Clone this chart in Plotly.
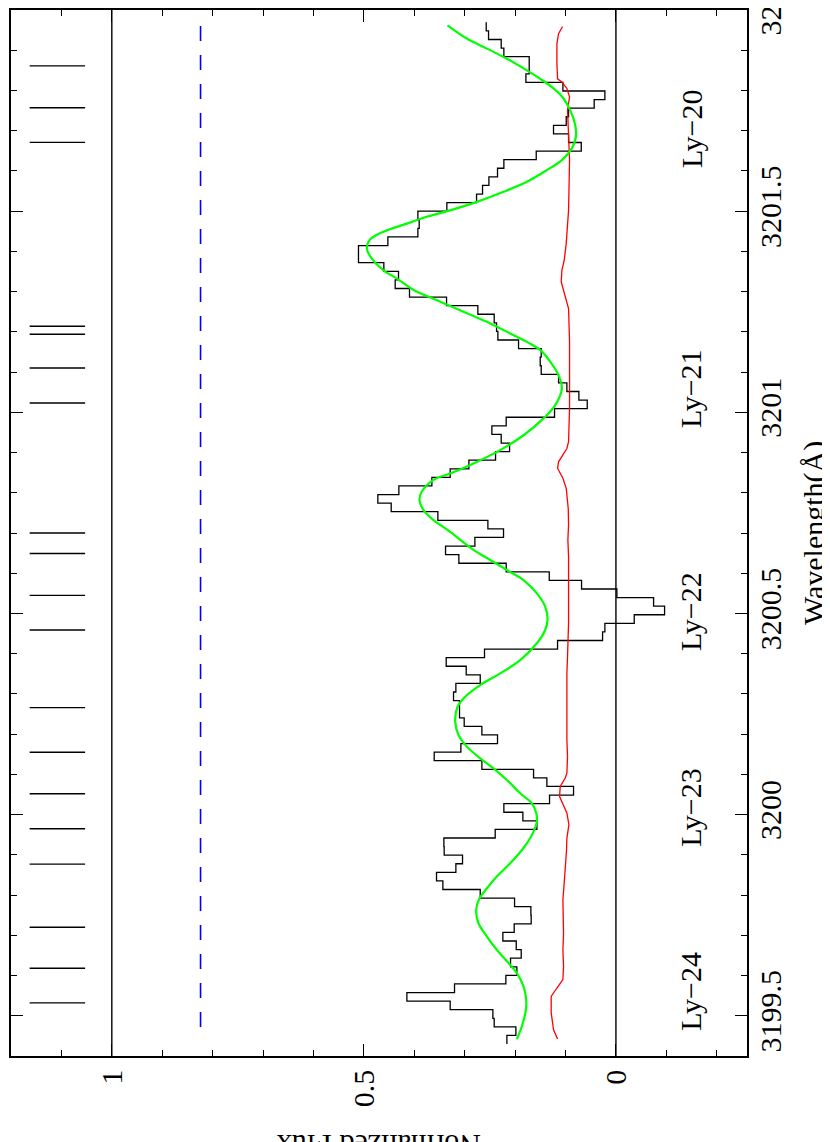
import numpy as np
import plotly.graph_objects as go

# ---------------- data ----------------
# spectrum pixel grid (linear dispersion): first bin edge and pixel width in Angstrom
wave_start = 3199.4297
wave_step = 0.021342

# observed normalized flux per pixel (low -> high wavelength)
flux_hist = [
    0.2163, 0.1985, 0.2415, 0.2441, 0.3288, 0.4147, 0.3202, 0.2183, 0.1965, 0.2091,
    0.1879, 0.1978, 0.2243, 0.2018, 0.1681, 0.1687, 0.2011, 0.2692, 0.3433, 0.3559,
    0.3175, 0.3043, 0.3407, 0.3413, 0.2395, 0.1568, 0.1846, 0.2223, 0.1317, 0.0841,
    0.1370, 0.1634, 0.2659, 0.3605, 0.3076, 0.2349, 0.2659, 0.3010, 0.3103, 0.3103,
    0.3222, 0.3175, 0.2692, 0.2970, 0.3367, 0.2607, 0.1158, 0.0265, 0.0219, -0.0363,
    -0.0965, -0.0747, -0.0019, 0.0682, 0.1323, 0.2177, 0.3116, 0.3380, 0.2798, 0.2230,
    0.2540, 0.3532, 0.4458, 0.4723, 0.4306, 0.3651, 0.3288, 0.2917, 0.2388, 0.2110,
    0.2276, 0.2461, 0.2177, 0.1218, 0.0569, 0.0735, 0.0973, 0.1138, 0.1482, 0.1502,
    0.1482, 0.1932, 0.2342, 0.2368, 0.2415, 0.2739, 0.3360, 0.4095, 0.4379, 0.4313,
    0.4604, 0.5107, 0.5107, 0.4524, 0.3929, 0.3903, 0.3929, 0.3354, 0.2765, 0.2646,
    0.2520, 0.2349, 0.2223, 0.1581, 0.0688, 0.0940, 0.1238, 0.0986, 0.0940, 0.0431,
    0.0219, 0.1052, 0.1786, 0.1720, 0.1720, 0.2223, 0.2276, 0.2527, 0.2573,
]

# model fit (green)
fit_wave = [
    3199.442, 3199.474, 3199.515, 3199.540, 3199.573, 3199.606, 3199.631, 3199.664,
    3199.697, 3199.730, 3199.763, 3199.792, 3199.817, 3199.846, 3199.879, 3199.917,
    3199.954, 3199.983, 3200.004, 3200.028, 3200.053, 3200.086, 3200.115, 3200.140,
    3200.169, 3200.198, 3200.231, 3200.268, 3200.293, 3200.322, 3200.351, 3200.384,
    3200.426, 3200.459, 3200.484, 3200.517, 3200.550, 3200.583, 3200.608, 3200.633,
    3200.658, 3200.703, 3200.732, 3200.757, 3200.782, 3200.803, 3200.832, 3200.848,
    3200.873, 3200.906, 3200.943, 3200.985, 3201.018, 3201.059, 3201.092, 3201.126,
    3201.155, 3201.175, 3201.196, 3201.221, 3201.246, 3201.275, 3201.304, 3201.330,
    3201.353, 3201.382, 3201.407, 3201.428, 3201.449, 3201.469, 3201.486, 3201.502,
    3201.523, 3201.548, 3201.573, 3201.602, 3201.627, 3201.656, 3201.685, 3201.714,
    3201.751, 3201.780, 3201.805, 3201.829, 3201.850, 3201.879, 3201.904, 3201.929,
    3201.962,
]
fit_flux = [
    0.1965, 0.1866, 0.1786, 0.1780, 0.1833, 0.1965, 0.2130, 0.2362,
    0.2560, 0.2726, 0.2772, 0.2706, 0.2560, 0.2362, 0.2097, 0.1833,
    0.1647, 0.1568, 0.1581, 0.1667, 0.1899, 0.2163, 0.2428, 0.2692,
    0.2957, 0.3122, 0.3188, 0.3142, 0.2990, 0.2692, 0.2296, 0.1899,
    0.1568, 0.1403, 0.1357, 0.1403, 0.1568, 0.1833, 0.2163, 0.2494,
    0.2825, 0.3288, 0.3618, 0.3817, 0.3896, 0.3850, 0.3618, 0.3288,
    0.2825, 0.2296, 0.1833, 0.1436, 0.1204, 0.1072, 0.1138, 0.1304,
    0.1502, 0.1767, 0.2097, 0.2494, 0.2957, 0.3486, 0.4015, 0.4313,
    0.4610, 0.4842, 0.4941, 0.4888, 0.4610, 0.4147, 0.3751, 0.3288,
    0.2759, 0.2230, 0.1767, 0.1370, 0.1072, 0.0874, 0.0794, 0.0808,
    0.0907, 0.1039, 0.1238, 0.1502, 0.1767, 0.2163, 0.2560, 0.2957,
    0.3341,
]

# flux error (red)
err_wave = [
    3199.442, 3199.465, 3199.507, 3199.548, 3199.569, 3199.590, 3199.623, 3199.664,
    3199.705, 3199.747, 3199.788, 3199.830, 3199.871, 3199.912, 3199.941, 3199.975,
    3200.004, 3200.028, 3200.045, 3200.070, 3200.091, 3200.103, 3200.144, 3200.186,
    3200.227, 3200.269, 3200.310, 3200.351, 3200.393, 3200.434, 3200.476, 3200.517,
    3200.558, 3200.600, 3200.641, 3200.683, 3200.720, 3200.761, 3200.811, 3200.836,
    3200.861, 3200.877, 3200.894, 3200.910, 3200.927, 3200.968, 3201.010, 3201.092,
    3201.175, 3201.258, 3201.300, 3201.324, 3201.353, 3201.378, 3201.420, 3201.461,
    3201.502, 3201.544, 3201.585, 3201.627, 3201.668, 3201.709, 3201.751, 3201.784,
    3201.805, 3201.821, 3201.829, 3201.867, 3201.916, 3201.941, 3201.959,
]
err_flux = [
    0.1158, 0.1237, 0.1284, 0.1284, 0.1171, 0.1052, 0.1039, 0.1052,
    0.1039, 0.1052, 0.1052, 0.1026, 0.0999, 0.0980, 0.0973, 0.0933,
    0.0973, 0.1052, 0.1118, 0.1105, 0.1006, 0.0973, 0.0960, 0.0973,
    0.0973, 0.0973, 0.0986, 0.0973, 0.0960, 0.0946, 0.0940, 0.0940,
    0.0946, 0.0940, 0.0940, 0.0953, 0.0940, 0.0946, 0.0986, 0.1052,
    0.1158, 0.1138, 0.1052, 0.0973, 0.0940, 0.0927, 0.0920, 0.0920,
    0.0920, 0.0940, 0.1026, 0.1085, 0.1072, 0.1026, 0.0986, 0.0960,
    0.0940, 0.0933, 0.0920, 0.0920, 0.0933, 0.0946, 0.0960, 0.0920,
    0.0973, 0.1072, 0.1158, 0.1171, 0.1171, 0.1138, 0.1059,
]

# continuum-level guide (blue dashed)
cont_level = 0.824
cont_wave = [3201.960, 3199.440]

# reference flux levels
ref_levels = [0, 1]

# absorption component markers (tick lines at top of panel)
marker_wave = [
    3199.532, 3199.618, 3199.720, 3199.877, 3199.965, 3200.052, 3200.155,
    3200.266, 3200.459, 3200.545, 3200.649, 3200.700, 3201.023, 3201.110,
    3201.194, 3201.214, 3201.671, 3201.757, 3201.861,
]
marker_flux = [1.053, 1.163]

# transition labels
ly_labels = ["Ly\u221224", "Ly\u221223", "Ly\u221222", "Ly\u221221", "Ly\u221220"]
ly_wave = [3199.560, 3200.017, 3200.504, 3201.058, 3201.704]
ly_flux = -0.149

# axes
flux_range = [1.2, -0.26]
wave_range = [3199.4, 3202.0]
flux_ticks = [0, 0.5, 1]
flux_ticktext = ["0", "0.5", "1"]
wave_ticks = [3199.5, 3200.0, 3200.5, 3201.0, 3201.5, 3202.0]
wave_ticktext = ["3199.5", "3200", "3200.5", "3201", "3201.5", "3202"]

# ---------------- figure ----------------
FONT = "Liberation Serif"
FS = 30

fig = go.Figure()

edges = wave_start + wave_step * np.arange(len(flux_hist) + 1)
fig.add_trace(go.Scatter(
    x=list(flux_hist) + [flux_hist[-1]], y=edges, mode="lines",
    line=dict(color="black", width=1.3, shape="vh"), hoverinfo="skip"))

fig.add_trace(go.Scatter(
    x=err_flux, y=err_wave, mode="lines",
    line=dict(color="#ff0000", width=1.3), hoverinfo="skip"))

fig.add_trace(go.Scatter(
    x=fit_flux, y=fit_wave, mode="lines",
    line=dict(color="#00ff00", width=2.2, shape="spline", smoothing=1.0), hoverinfo="skip"))

fig.add_trace(go.Scatter(
    x=[cont_level, cont_level], y=cont_wave, mode="lines",
    line=dict(color="#0000ff", width=1.6, dash="15px,14px"), hoverinfo="skip"))

mx, my = [], []
for w in marker_wave:
    mx += [marker_flux[0], marker_flux[1], None]
    my += [w, w, None]
fig.add_trace(go.Scatter(x=mx, y=my, mode="lines",
                         line=dict(color="black", width=1.4), hoverinfo="skip"))

for lv in ref_levels:
    fig.add_vline(x=lv, line=dict(color="black", width=1.4), layer="below")

for lab, w in zip(ly_labels, ly_wave):
    fig.add_annotation(x=ly_flux, y=w, xref="x", yref="y", text=lab, textangle=-90,
                       showarrow=False, xanchor="center", yanchor="middle",
                       font=dict(family=FONT, size=FS, color="black"))

# axis titles: wavelength on the right (reads upward), flux title upside down at
# the bottom, cut by the page edge as in the reference
fig.add_annotation(x=1.091, y=0.5, xref="paper", yref="paper", text="Wavelength(\u00c5)",
                   textangle=-90, showarrow=False, xanchor="center", yanchor="middle",
                   font=dict(family=FONT, size=FS, color="black"))
fig.add_annotation(x=0.5, y=-0.085, xref="paper", yref="paper", text="Normalized Flux",
                   textangle=180, showarrow=False, xanchor="center", yanchor="middle",
                   font=dict(family=FONT, size=FS, color="black"))

axis_common = dict(
    showline=True, linecolor="black", linewidth=1.5, mirror="ticks",
    ticks="inside", ticklen=12, tickwidth=1.3, tickcolor="black",
    showgrid=False, zeroline=False, tickangle=-90, ticklabeloverflow="allow",
    automargin=False,
    tickfont=dict(family=FONT, size=FS, color="black"),
)

fig.update_xaxes(range=flux_range, tickmode="array", tickvals=flux_ticks,
                 ticktext=flux_ticktext,
                 minor=dict(ticks="inside", ticklen=6, tickwidth=1.3, tickcolor="black",
                            tickmode="linear", tick0=0, dtick=0.1, showgrid=False),
                 **axis_common)
fig.update_yaxes(range=wave_range, side="right", tickmode="array", tickvals=wave_ticks,
                 ticktext=wave_ticktext, ticklabelstandoff=-4,
                 minor=dict(ticks="inside", ticklen=6, tickwidth=1.3, tickcolor="black",
                            tickmode="linear", tick0=3199.5, dtick=0.1, showgrid=False),
                 **axis_common)

# the page body adds an 8 px offset, so the margins are reduced by that amount
fig.update_layout(
    width=830, height=1142,
    margin=dict(l=3, r=91, t=2, b=94, pad=0, autoexpand=False),
    paper_bgcolor="white", plot_bgcolor="white",
    showlegend=False,
    font=dict(family=FONT, size=FS, color="black"),
)

fig.write_html("out.html")
